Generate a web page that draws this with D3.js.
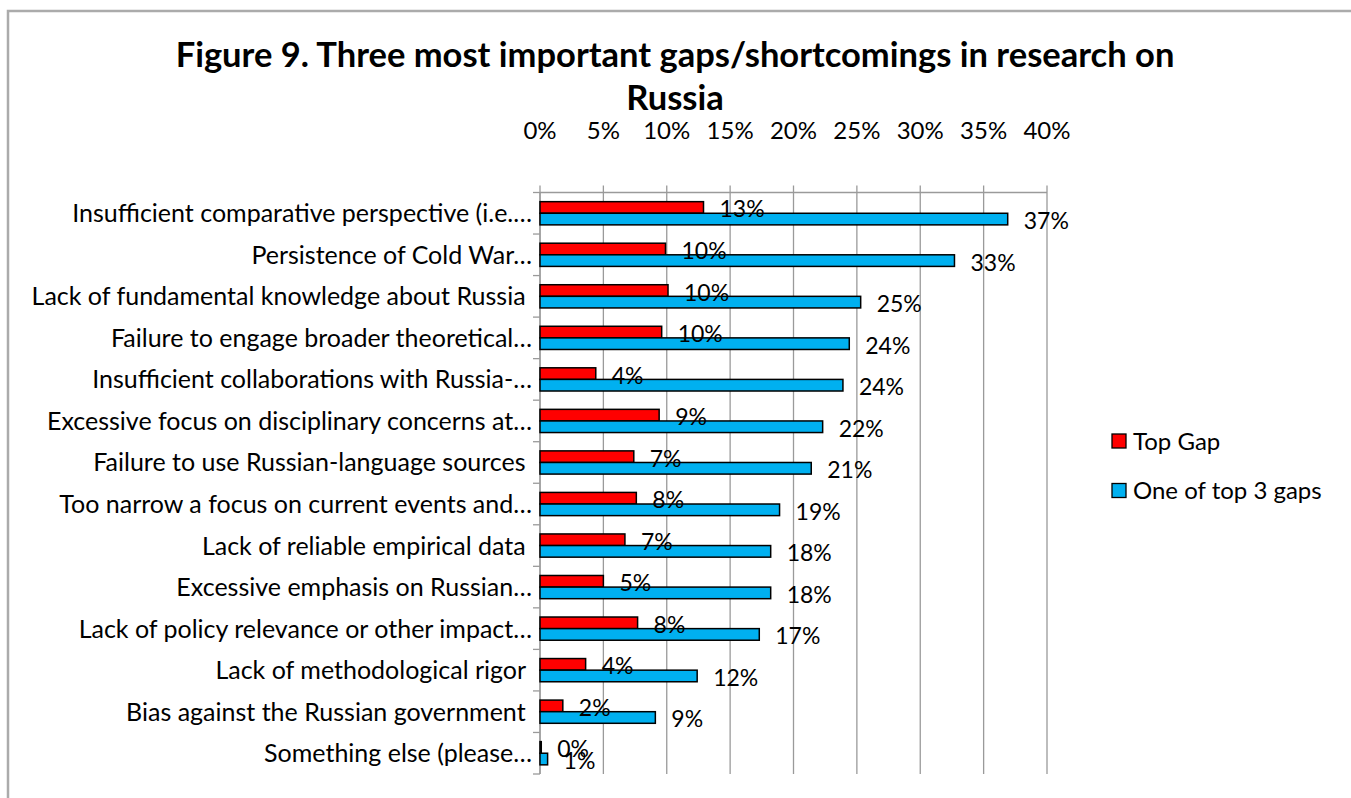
<!DOCTYPE html>
<html>
<head>
<meta charset="utf-8">
<script src="https://cdn.jsdelivr.net/npm/d3@7/dist/d3.min.js"></script>
<style>
  html, body { margin: 0; padding: 0; background: #fff; }
  svg { display: block; font-family: Lato, "Open Sans", sans-serif; }
  text { white-space: pre; }
</style>
</head>
<body>
<svg id="chart" width="1351" height="798"></svg>
<script>
// Survey answers: share of respondents naming each gap
const categories = [
  "Insufficient comparative perspective (i.e.\u2026",
  "Persistence of Cold War\u2026",
  "Lack of fundamental knowledge about Russia ",
  "Failure to engage broader theoretical\u2026",
  "Insufficient collaborations with Russia-\u2026",
  "Excessive focus on disciplinary concerns at\u2026",
  "Failure to use Russian-language sources ",
  "Too narrow a focus on current events and\u2026",
  "Lack of reliable empirical data ",
  "Excessive emphasis on Russian\u2026",
  "Lack of policy relevance or other impact\u2026",
  "Lack of methodological rigor ",
  "Bias against the Russian government ",
  "Something else (please\u2026"
];
const topGap    = [12.9, 9.9, 10.1, 9.6, 4.4, 9.4, 7.4, 7.6, 6.7, 5.0, 7.7, 3.6, 1.8, 0.1];
const oneOfTop3 = [36.9, 32.7, 25.3, 24.4, 23.9, 22.3, 21.4, 18.9, 18.2, 18.2, 17.3, 12.4, 9.1, 0.6];
const seriesNames = ["Top Gap", "One of top 3 gaps"];
const seriesColors = ["#FF0000", "#00B0F0"];
const tickValues = [0, 5, 10, 15, 20, 25, 30, 35, 40];
const tickLabels = ["0%", "5%", "10%", "15%", "20%", "25%", "30%", "35%", "40%"];
const titleLines = ["Figure 9. Three most important gaps/shortcomings in research on", "Russia"];

const svg = d3.select("#chart");
const series = [topGap, oneOfTop3];

// chart frame
svg.append("path")
  .attr("d", "M8,798 L8,11 L1351,11")
  .attr("fill", "none").attr("stroke", "#ababab").attr("stroke-width", 2.5);

// title
svg.append("g").selectAll("text").data(titleLines).join("text")
  .attr("x", 675).attr("y", (d, i) => 67 + i * 43)
  .attr("text-anchor", "middle")
  .attr("font-weight", 700).attr("font-size", 34.5).attr("fill", "#000")
  .text(d => d);

const x = d3.scaleLinear().domain([0, 40]).range([540, 1047]);
const y = d3.scaleBand().domain(categories).range([192.5, 774]).padding(0);
const sub = d3.scaleBand().domain([0, 1]).range([0, y.bandwidth()]).paddingInner(0).paddingOuter(0.79);

const gridColor = "#9a9a9a";

// vertical gridlines with outward ticks above the axis
svg.append("g").selectAll("line").data(tickValues).join("line")
  .attr("x1", d => x(d)).attr("x2", d => x(d))
  .attr("y1", 185.5).attr("y2", 774)
  .attr("stroke", gridColor).attr("stroke-width", 1.3);

// top value axis line
svg.append("line")
  .attr("x1", 540).attr("x2", 1047).attr("y1", 192.5).attr("y2", 192.5)
  .attr("stroke", gridColor).attr("stroke-width", 1.3);

// value tick labels
svg.append("g").selectAll("text").data(tickValues).join("text")
  .attr("x", d => x(d)).attr("y", 139)
  .attr("text-anchor", "middle").attr("font-size", 24).attr("fill", "#000")
  .text((d, i) => tickLabels[i]);

// category axis with tick marks at band boundaries
const boundaries = categories.map(c => y(c)).concat([y.range()[1]]);
svg.append("line")
  .attr("x1", 540).attr("x2", 540).attr("y1", 192.5).attr("y2", 774)
  .attr("stroke", gridColor).attr("stroke-width", 1.3);
svg.append("g").selectAll("line").data(boundaries).join("line")
  .attr("x1", 533).attr("x2", 540).attr("y1", d => d).attr("y2", d => d)
  .attr("stroke", gridColor).attr("stroke-width", 1.3);

// category labels
svg.append("g").selectAll("text").data(categories).join("text")
  .attr("x", 532).attr("y", d => y(d) + y.bandwidth() / 2 + 9)
  .attr("text-anchor", "end").attr("font-size", 25).attr("fill", "#000")
  .text(d => d);

// bars
series.forEach((vals, si) => {
  const g = svg.append("g");
  g.selectAll("rect").data(vals).join("rect")
    .attr("x", x(0))
    .attr("y", (d, i) => y(categories[i]) + sub(si))
    .attr("width", d => x(d) - x(0))
    .attr("height", sub.bandwidth())
    .attr("fill", seriesColors[si])
    .attr("stroke", "#000").attr("stroke-width", 1.5);
});

// data labels
series.forEach((vals, si) => {
  svg.append("g").selectAll("text").data(vals).join("text")
    .attr("x", d => x(d) + 16)
    .attr("y", (d, i) => y(categories[i]) + sub(si) + sub.bandwidth() / 2 + 10)
    .attr("font-size", 23).attr("fill", "#000")
    .text(d => Math.round(d) + "%");
});

// legend
const legend = svg.append("g").attr("transform", "translate(1112,434)");
const items = legend.selectAll("g").data(seriesNames).join("g")
  .attr("transform", (d, i) => `translate(0,${i * 49.5})`);
items.append("rect")
  .attr("width", 14).attr("height", 14)
  .attr("fill", (d, i) => seriesColors[i])
  .attr("stroke", "#000").attr("stroke-width", 1.3);
items.append("text")
  .attr("x", 21).attr("y", 15.5)
  .attr("font-size", 24).attr("fill", "#000")
  .text(d => d);
</script>
</body>
</html>
